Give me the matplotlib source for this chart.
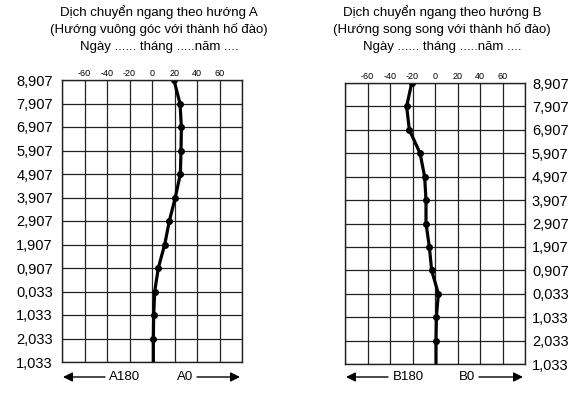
import numpy as np
import matplotlib.pyplot as plt

plt.rcParams['font.family'] = ['Liberation Sans', 'DejaVu Sans']

# depth labels, top to bottom
depth_labels = ['8,907', '7,907', '6,907', '5,907', '4,907', '3,907', '2,907',
                '1,907', '0,907', '0,033', '1,033', '2,033', '1,033']
x_ticks = [-80, -60, -40, -20, 0, 20, 40, 60, 80]
x_tick_labels = ['', '-60', '-40', '-20', '0', '20', '40', '60', '']

# displacement (last point has no marker)
disp_a = [19.5, 24.9, 26.1, 25.8, 25.2, 20.7, 15.4, 11.3, 5.6, 2.4, 1.5, 1.2, 1.2]
disp_b = [-20.7, -25.2, -22.8, -13.3, -9.2, -8.0, -8.0, -5.0, -3.0, 3.0, 1.2, 0.9, 0.9]

titles_a = ['Dịch chuyển ngang theo hướng A', '(Hướng vuông góc với thành hố đào)',
            'Ngày ...... tháng .....năm ....']
titles_b = ['Dịch chuyển ngang theo hướng B', '(Hướng song song với thành hố đào)',
            'Ngày ...... tháng .....năm ....']

W, H = 576, 396


def fx(px):
    return px / W


def fy(py):
    return 1 - py / H


def draw_panel(ax, values, right_labels):
    ypos = np.arange(len(depth_labels))
    ax.plot(values, ypos, color='black', linewidth=2.3, marker='o', markersize=4,
            markevery=list(range(len(values) - 1)), solid_joinstyle='round')
    ax.set_xlim(-80, 80)
    ax.set_ylim(len(depth_labels) - 1, 0)
    ax.set_xticks(x_ticks)
    ax.set_xticklabels(x_tick_labels, fontsize=6.5)
    ax.xaxis.tick_top()
    ax.set_yticks(ypos)
    ax.set_yticklabels(depth_labels, fontsize=10.5)
    if right_labels:
        ax.yaxis.tick_right()
        ax.tick_params(axis='y', pad=5)
    else:
        ax.tick_params(axis='y', pad=6.5)
    ax.tick_params(axis='x', length=0, pad=1.5)
    ax.tick_params(axis='y', length=0)
    ax.grid(True, color='#222222', linewidth=0.9)
    ax.set_axisbelow(True)
    for s in ax.spines.values():
        s.set_color('#222222')
        s.set_linewidth(1.0)


fig = plt.figure(figsize=(W / 100, H / 100), dpi=100)
ax_a = fig.add_axes([fx(62), fy(362), fx(180), (362 - 80) / H])
ax_b = fig.add_axes([fx(345), fy(364), fx(180), (364 - 83) / H])

draw_panel(ax_a, disp_a, False)
draw_panel(ax_b, disp_b, True)

for i, t in enumerate(titles_a):
    fig.text(fx(159), fy(12 + 17.5 * i), t, ha='center', va='center', fontsize=9.5)
for i, t in enumerate(titles_b):
    fig.text(fx(442), fy(12 + 17.5 * i), t, ha='center', va='center', fontsize=9.5)

arrow = dict(arrowstyle='-|>', color='black', linewidth=1.0, mutation_scale=14,
             shrinkA=0, shrinkB=0)
ya = fy(377)
# panel A
fig.add_artist(plt.Annotation('', xy=(fx(63), ya), xytext=(fx(105), ya),
                              xycoords='figure fraction', arrowprops=arrow))
fig.add_artist(plt.Annotation('', xy=(fx(240), ya), xytext=(fx(197), ya),
                              xycoords='figure fraction', arrowprops=arrow))
fig.text(fx(125), ya, 'A180', ha='center', va='center', fontsize=9.5)
fig.text(fx(185), ya, 'A0', ha='center', va='center', fontsize=9.5)
# panel B
fig.add_artist(plt.Annotation('', xy=(fx(346), ya), xytext=(fx(388), ya),
                              xycoords='figure fraction', arrowprops=arrow))
fig.add_artist(plt.Annotation('', xy=(fx(523), ya), xytext=(fx(479), ya),
                              xycoords='figure fraction', arrowprops=arrow))
fig.text(fx(408), ya, 'B180', ha='center', va='center', fontsize=9.5)
fig.text(fx(467), ya, 'B0', ha='center', va='center', fontsize=9.5)

fig.savefig('out.png', dpi=100)
